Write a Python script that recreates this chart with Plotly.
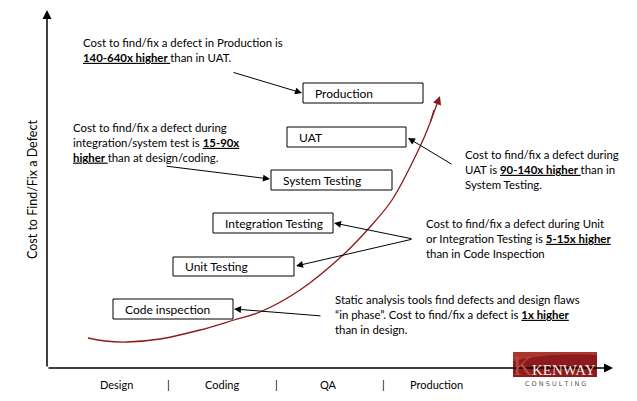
import plotly.graph_objects as go

# ---- data ----
stages = ["Code inspection", "Unit Testing", "Integration Testing", "System Testing", "UAT", "Production"]
phases = ["Design", "Coding", "QA", "Production"]
y_title = "Cost to Find/Fix a Defect"
notes = [
    "Cost to find/fix a defect in Production is<br><b><u>140-640x higher </u></b>than in UAT.",
    "Cost to find/fix a defect during<br>integration/system test is <b><u>15-90x</u></b><br><b><u>higher </u></b>than at design/coding.",
    "Cost to find/fix a defect during<br>UAT is <b><u>90-140x higher </u></b>than in<br>System Testing.",
    "Cost to find/fix a defect during Unit<br>or Integration Testing is <b><u>5-15x higher</u></b><br>than in Code Inspection",
    "Static analysis tools find defects and design flaws<br>\u201cin phase\u201d. Cost to find/fix a defect is <b><u>1x higher</u></b><br>than in design.",
]
# conceptual cost curve (pixel-space diagram coordinates)
curve_x = [88, 105, 127, 160, 200, 234, 260, 300, 343, 370, 392, 417, 430, 434]
curve_y = [338, 341, 342, 339, 330, 320, 312, 290, 255, 227, 200, 153, 123, 110]

# ---- layout positions ----
box_pos = [(113, 299, 233, 319), (173, 257, 294, 276), (213, 213, 333, 233),
           (271, 170, 392, 190), (287, 127, 406, 147), (303, 83, 423, 103)]
note_pos = [(81, 50), (71, 142), (463, 169), (424, 238), (333, 314)]
phase_x = [116, 222, 328, 436]
sep_x = [168, 276, 383]

FONT = "Lato"
RED = "#8B1A1A"

fig = go.Figure()
fig.add_trace(go.Scatter(x=curve_x, y=curve_y, mode="lines",
                         line=dict(color=RED, width=1.3, shape="spline"),
                         hoverinfo="skip", showlegend=False))

ann = []
shapes = []

def arrow(x0, y0, x1, y1, color="black", width=1, size=1.4, head=2):
    ann.append(dict(x=x1, y=y1, ax=x0, ay=y0, xref="x", yref="y", axref="x", ayref="y",
                    text="", showarrow=True, arrowhead=head, arrowsize=size,
                    arrowwidth=width, arrowcolor=color, standoff=0, startstandoff=0))

# axes
arrow(47, 368, 47, 10, width=1.5, size=1.2)
arrow(47, 368, 613, 368, width=1.5, size=1.2)
# curve end arrow
arrow(curve_x[-2], curve_y[-2], 440, 96, color=RED, width=1.3, size=1.3)

# stage boxes
for lab, (x0, y0, x1, y1) in zip(stages, box_pos):
    shapes.append(dict(type="rect", xref="x", yref="y", x0=x0, y0=y0, x1=x1, y1=y1,
                       line=dict(color="black", width=1), fillcolor="white", layer="above"))
    ann.append(dict(x=x0 + 10, y=(y0 + y1) / 2, xref="x", yref="y", text=lab, showarrow=False,
                    xanchor="left", yanchor="middle", font=dict(family=FONT, size=12, color="black")))

# notes
for t, (x, y) in zip(notes, note_pos):
    ann.append(dict(x=x, y=y, xref="x", yref="y", text=t, showarrow=False, align="left",
                    xanchor="left", yanchor="middle", font=dict(family=FONT, size=11.4, color="black")))

# note arrows
arrow(232, 72, 302, 93)
arrow(165, 166, 270, 179)
arrow(453, 165, 408, 138)
arrow(413, 239, 334, 223)
arrow(413, 239, 296, 266)
arrow(322, 316, 234, 309)

# phase labels
for p, x in zip(phases, phase_x):
    ann.append(dict(x=x, y=384, xref="x", yref="y", text=p, showarrow=False,
                    font=dict(family=FONT, size=11, color="black")))
for x in sep_x:
    ann.append(dict(x=x, y=384, xref="x", yref="y", text="|", showarrow=False,
                    font=dict(family=FONT, size=11, color="black")))

# y title
ann.append(dict(x=32, y=190, xref="x", yref="y", text=y_title, showarrow=False, textangle=-90,
                font=dict(family=FONT, size=12.5, color="black")))

# logo
shapes.append(dict(type="rect", xref="x", yref="y", x0=513, y0=352, x1=597, y1=377,
                   line=dict(width=0), fillcolor="#8E1B1B"))
shapes.append(dict(type="path", xref="x", yref="y",
                   path="M 513 361 Q 550 352 597 355 L 597 352 L 513 352 Z",
                   line=dict(width=0), fillcolor="#A8382E"))
ann.append(dict(x=523, y=366, xref="x", yref="y", text="K", showarrow=False, yanchor="middle",
                font=dict(family="Liberation Serif", size=27, color="#B4473A")))
ann.append(dict(x=598, y=380, xref="x", yref="y", text="KENWAY", showarrow=False,
                xanchor="right", yanchor="bottom",
                font=dict(family="Liberation Serif", size=15, color="#F4ECEC")))
ann.append(dict(x=555, y=384, xref="x", yref="y", text="C O N S U L T I N G", showarrow=False,
                font=dict(family="DejaVu Sans", size=6.5, color="#555555")))

fig.update_layout(
    width=637, height=401, margin=dict(l=0, r=0, t=0, b=0),
    paper_bgcolor="white", plot_bgcolor="white",
    xaxis=dict(range=[0, 637], visible=False, fixedrange=True),
    yaxis=dict(range=[401, 0], visible=False, fixedrange=True),
    shapes=shapes, annotations=ann, showlegend=False,
)
fig.write_html("out.html", config={"displayModeBar": False},
               post_script="document.body.style.margin='0';document.body.style.padding='0';")
